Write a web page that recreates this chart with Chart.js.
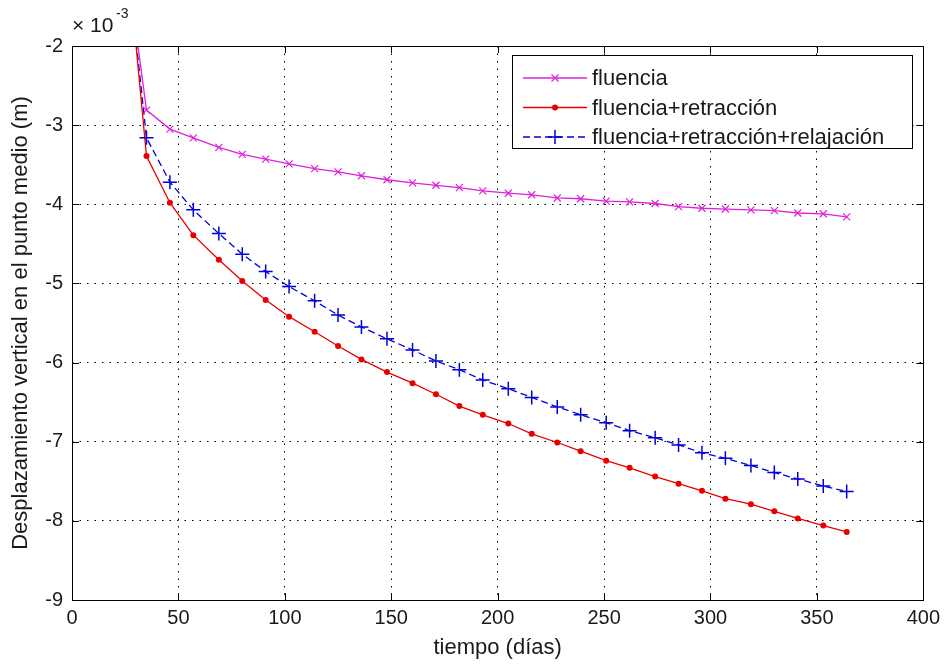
<!DOCTYPE html>
<html>
<head>
<meta charset="utf-8">
<script src="https://cdn.jsdelivr.net/npm/chart.js"></script>
<style>
  html, body { margin: 0; padding: 0; background: #fff; }
  #wrap { width: 946px; height: 666px; }
</style>
</head>
<body>
<div id="wrap"><canvas id="grafico" width="946" height="666"></canvas></div>
<script>
// tiempo (días) de cada punto; el primero queda fuera del eje (por encima de -2e-3)
const dias = [28, 35, 46, 57, 69, 80, 91, 102, 114, 125, 136, 148, 160, 171, 182, 193,
              205, 216, 228, 239, 251, 262, 274, 285, 296, 307, 319, 330, 341, 353, 364];

// desplazamientos en unidades de 1e-3 m
const fluencia = [-1.4, -2.81, -3.05, -3.16, -3.28, -3.37, -3.43, -3.49, -3.55, -3.59, -3.64,
                  -3.69, -3.73, -3.76, -3.79, -3.83, -3.86, -3.88, -3.92, -3.93, -3.96, -3.97,
                  -3.99, -4.03, -4.05, -4.06, -4.07, -4.08, -4.11, -4.12, -4.16];
const fluenciaRetraccion = [-1.4, -3.39, -3.98, -4.39, -4.70, -4.97, -5.21, -5.42, -5.61, -5.79,
                  -5.96, -6.12, -6.26, -6.40, -6.55, -6.66, -6.77, -6.90, -7.01, -7.12, -7.24,
                  -7.33, -7.44, -7.53, -7.62, -7.72, -7.79, -7.88, -7.97, -8.06, -8.14];
const fluenciaRetraccionRelajacion = [-1.4, -3.16, -3.72, -4.07, -4.37, -4.63, -4.85, -5.04, -5.22,
                  -5.40, -5.55, -5.70, -5.84, -5.98, -6.09, -6.22, -6.33, -6.44, -6.56, -6.66,
                  -6.76, -6.86, -6.95, -7.04, -7.14, -7.21, -7.30, -7.39, -7.47, -7.56, -7.63];

const nombres = ['fluencia', 'fluencia+retracción', 'fluencia+retracción+relajación'];
const xTicks = [0, 50, 100, 150, 200, 250, 300, 350, 400];
const yTicks = [-9, -8, -7, -6, -5, -4, -3, -2];

const FUENTE = '"Liberation Sans", Arial, sans-serif';
const TEXTO = '#1a1a1a';

const puntos = arr => arr.map((v, i) => ({ x: dias[i], y: v }));

// marcadores estilo matlab
function marcador(ctx, tipo, x, y, color) {
  ctx.save();
  ctx.strokeStyle = color;
  ctx.fillStyle = color;
  ctx.setLineDash([]);
  ctx.beginPath();
  if (tipo === 'x') {
    ctx.lineWidth = 1.2;
    ctx.moveTo(x - 3.5, y - 3.5); ctx.lineTo(x + 3.5, y + 3.5);
    ctx.moveTo(x + 3.5, y - 3.5); ctx.lineTo(x - 3.5, y + 3.5);
    ctx.stroke();
  } else if (tipo === 'punto') {
    ctx.arc(x, y, 3, 0, Math.PI * 2);
    ctx.fill();
  } else {
    ctx.lineWidth = 1.5;
    ctx.moveTo(x - 7, y); ctx.lineTo(x + 7, y);
    ctx.moveTo(x, y - 7); ctx.lineTo(x, y + 7);
    ctx.stroke();
  }
  ctx.restore();
}

const estilos = [
  { color: '#dd22dd', tipo: 'x', dash: [] },
  { color: '#e80000', tipo: 'punto', dash: [] },
  { color: '#0000d8', tipo: 'mas', dash: [7, 4] }
];

const marcoMatlab = {
  id: 'marcoMatlab',
  afterDatasetsDraw(chart) {
    const ctx = chart.ctx;
    const a = chart.chartArea;
    const xs = chart.scales.x, ys = chart.scales.y;

    // marcadores de cada serie (recortados al área)
    ctx.save();
    ctx.beginPath();
    ctx.rect(a.left, a.top, a.right - a.left, a.bottom - a.top);
    ctx.clip();
    chart.data.datasets.forEach((ds, i) => {
      ds.data.forEach(p => {
        marcador(ctx, estilos[i].tipo, xs.getPixelForValue(p.x), ys.getPixelForValue(p.y), estilos[i].color);
      });
    });
    ctx.restore();

    // caja y marcas hacia dentro
    ctx.save();
    ctx.strokeStyle = '#000';
    ctx.lineWidth = 1;
    ctx.setLineDash([]);
    ctx.strokeRect(Math.round(a.left) + 0.5, Math.round(a.top) + 0.5,
                   Math.round(a.right - a.left), Math.round(a.bottom - a.top));
    ctx.beginPath();
    xTicks.forEach(t => {
      const px = Math.round(xs.getPixelForValue(t)) + 0.5;
      ctx.moveTo(px, a.bottom); ctx.lineTo(px, a.bottom - 7);
      ctx.moveTo(px, a.top); ctx.lineTo(px, a.top + 7);
    });
    yTicks.forEach(t => {
      const py = Math.round(ys.getPixelForValue(t)) + 0.5;
      ctx.moveTo(a.left, py); ctx.lineTo(a.left + 7, py);
      ctx.moveTo(a.right, py); ctx.lineTo(a.right - 7, py);
    });
    ctx.stroke();

    // factor de escala
    ctx.fillStyle = TEXTO;
    ctx.textBaseline = 'middle';
    ctx.textAlign = 'left';
    ctx.font = '21px ' + FUENTE;
    ctx.fillText('\u00d7 10', a.left, 26);
    ctx.font = '14px ' + FUENTE;
    ctx.fillText('-3', a.left + 44, 14);

    // leyenda
    const lx = 512, ly = 55, lw = 400, lh = 93;
    ctx.fillStyle = '#fff';
    ctx.fillRect(lx, ly, lw, lh);
    ctx.strokeStyle = '#000';
    ctx.strokeRect(lx + 0.5, ly + 0.5, lw, lh);
    ctx.font = '22px ' + FUENTE;
    nombres.forEach((n, i) => {
      const y = 78 + i * 29.5;
      const e = estilos[i];
      ctx.save();
      ctx.strokeStyle = e.color;
      ctx.lineWidth = 1.3;
      ctx.setLineDash(e.dash);
      ctx.beginPath();
      ctx.moveTo(523, y); ctx.lineTo(587, y);
      ctx.stroke();
      ctx.restore();
      marcador(ctx, e.tipo, 555, y, e.color);
      ctx.fillStyle = TEXTO;
      ctx.fillText(n, 592, y + 1);
    });
    ctx.restore();
  }
};

new Chart(document.getElementById('grafico'), {
  type: 'line',
  data: {
    datasets: [
      { label: nombres[0], data: puntos(fluencia) },
      { label: nombres[1], data: puntos(fluenciaRetraccion) },
      { label: nombres[2], data: puntos(fluenciaRetraccionRelajacion) }
    ].map((d, i) => Object.assign(d, {
      borderColor: estilos[i].color,
      borderWidth: 1.3,
      borderDash: estilos[i].dash,
      pointRadius: 0,
      tension: 0,
      fill: false
    }))
  },
  options: {
    responsive: false,
    animation: false,
    layout: { padding: { top: 46, right: 21, left: 0, bottom: 0 } },
    plugins: { legend: { display: false }, tooltip: { enabled: false } },
    scales: {
      x: {
        type: 'linear', min: 0, max: 400,
        afterBuildTicks: s => { s.ticks = xTicks.map(v => ({ value: v })); },
        afterFit: s => { s.height = 66; },
        grid: { color: '#000', lineWidth: 1, drawTicks: false },
        border: { display: false, dash: [1.5, 6] },
        ticks: { padding: 6, color: TEXTO, font: { family: FUENTE, size: 20 }, maxRotation: 0 },
        title: { display: true, text: 'tiempo (días)', color: TEXTO,
                 font: { family: FUENTE, size: 22 }, padding: { top: 0, bottom: 5 } }
      },
      y: {
        type: 'linear', min: -9, max: -2,
        afterBuildTicks: s => { s.ticks = yTicks.map(v => ({ value: v })); },
        afterFit: s => { s.width = 72; },
        grid: { color: '#000', lineWidth: 1, drawTicks: false },
        border: { display: false, dash: [1.5, 6] },
        ticks: { padding: 9, color: TEXTO, font: { family: FUENTE, size: 20 } },
        title: { display: true, text: 'Desplazamiento vertical en el punto medio (m)', color: TEXTO,
                 font: { family: FUENTE, size: 22 }, padding: { top: 8, bottom: 0 } }
      }
    }
  },
  plugins: [marcoMatlab]
});
</script>
</body>
</html>
